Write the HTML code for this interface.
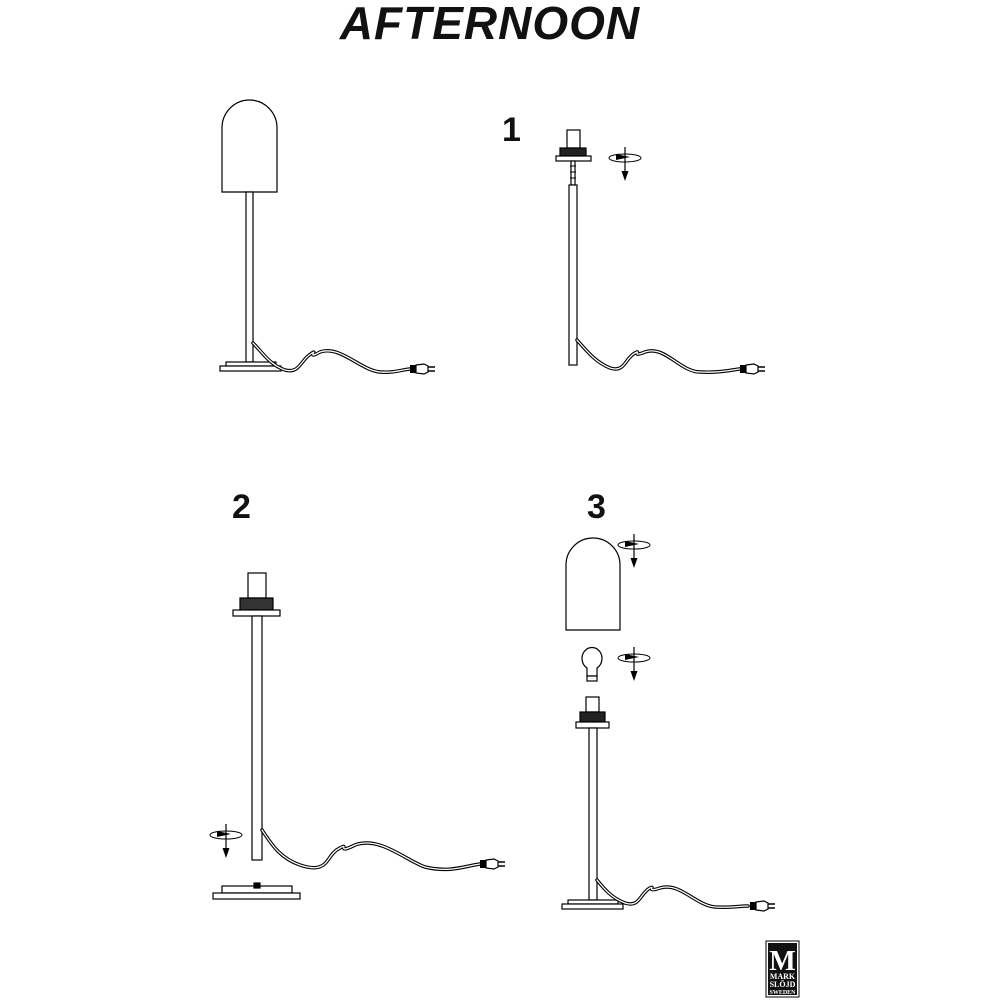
<!DOCTYPE html>
<html><head><meta charset="utf-8"><style>
html,body{margin:0;padding:0;background:#fff;width:1000px;height:1000px;overflow:hidden}
</style></head><body>
<svg width="1000" height="1000" viewBox="0 0 1000 1000" xmlns="http://www.w3.org/2000/svg">
<defs>
<g id="rot">
 <ellipse cx="0" cy="0" rx="16" ry="4" fill="none" stroke="#000" stroke-width="1"/>
 <line x1="0" y1="-11" x2="0" y2="17" stroke="#000" stroke-width="1.2"/>
 <polygon points="-3.5,13 3.5,13 0,23" fill="#000"/>
 <polygon points="-9,-4 5,-1 -9,2" fill="#000"/>
</g>
<g id="plug">
 <rect x="0" y="-4" width="6" height="8" fill="#000"/>
 <path d="M6,-4 L14,-5 L18,-3 L18,3 L14,5 L6,4 Z" fill="#fff" stroke="#000" stroke-width="1.2"/>
 <line x1="18" y1="-2" x2="25" y2="-2" stroke="#000" stroke-width="1.5"/>
 <line x1="18" y1="2" x2="25" y2="2" stroke="#000" stroke-width="1.5"/>
</g>
</defs>
<text x="490" y="39" text-anchor="middle" font-family="Liberation Sans, sans-serif" font-style="italic" font-weight="bold" font-size="46" fill="#111" letter-spacing="1">AFTERNOON</text>
<g font-family="Liberation Sans, sans-serif" font-weight="bold" font-size="34" fill="#111">
<text x="502" y="141">1</text><text x="232" y="518">2</text><text x="587" y="518">3</text>
</g>
<g fill="#fff" stroke="#000" stroke-width="1.2">
<path d="M222,192 L222,128 A27.5,28 0 0 1 277,128 L277,192 Z"/>
<rect x="246" y="192" width="7" height="170"/>
<rect x="226" y="362" width="50" height="4"/>
<rect x="220" y="366" width="61" height="5"/>
<rect x="567" y="130" width="13" height="18"/>
<rect x="560" y="148" width="26" height="8" fill="#222"/>
<rect x="556" y="156" width="35" height="5"/>
<rect x="571" y="161" width="4" height="24"/>
<rect x="569" y="185" width="8" height="180"/>
<rect x="248" y="573" width="18" height="25"/>
<rect x="240" y="598" width="33" height="12" fill="#333"/>
<rect x="233" y="610" width="47" height="6"/>
<rect x="252" y="616" width="10" height="244"/>
<rect x="222" y="886" width="70" height="7"/>
<rect x="213" y="893" width="87" height="6"/>
<rect x="254" y="883" width="6" height="5" fill="#000"/>
<path d="M566,630 L566,565 A27,27 0 0 1 620,565 L620,630 Z"/>
<path d="M587,668 A10,11 0 1 1 597,668 L597,676 L587,676 Z"/>
<rect x="587" y="676" width="10" height="5"/>
<rect x="586" y="697" width="13" height="15"/>
<rect x="580" y="712" width="25" height="10" fill="#222"/>
<rect x="576" y="722" width="33" height="6"/>
<rect x="589" y="728" width="8" height="172"/>
<rect x="568" y="900" width="50" height="4"/>
<rect x="562" y="904" width="61" height="5"/>
</g>
<g stroke="#000" stroke-width="1"><line x1="570" y1="166" x2="576" y2="166"/><line x1="570" y1="172" x2="576" y2="172"/><line x1="570" y1="178" x2="576" y2="178"/></g>
<g fill="none" stroke-linecap="round">
<path d="M253,343 C262,352 270,365 285,370 C300,374 300,360 312,353 C318,349 306,360 320,352 C340,345 360,370 380,372 C395,373 400,370 410,369" stroke="#000" stroke-width="3.5"/>
<path d="M253,343 C262,352 270,365 285,370 C300,374 300,360 312,353 C318,349 306,360 320,352 C340,345 360,370 380,372 C395,373 400,370 410,369" stroke="#fff" stroke-width="1.3"/>
<path d="M577,340 C586,350 595,362 610,368 C625,373 625,358 635,353 C642,349 630,358 645,352 C665,345 680,372 700,372 C720,373 730,370 740,369" stroke="#000" stroke-width="3.5"/>
<path d="M577,340 C586,350 595,362 610,368 C625,373 625,358 635,353 C642,349 630,358 645,352 C665,345 680,372 700,372 C720,373 730,370 740,369" stroke="#fff" stroke-width="1.3"/>
<path d="M262,830 C272,845 280,858 300,865 C330,875 325,855 340,848 C350,842 335,855 355,845 C380,836 405,860 425,867 C450,873 465,866 480,864" stroke="#000" stroke-width="3.5"/>
<path d="M262,830 C272,845 280,858 300,865 C330,875 325,855 340,848 C350,842 335,855 355,845 C380,836 405,860 425,867 C450,873 465,866 480,864" stroke="#fff" stroke-width="1.3"/>
<path d="M597,880 C605,890 612,898 625,903 C640,908 640,893 650,888 C656,885 645,893 660,888 C680,882 695,905 715,907 C730,908 738,906 748,906" stroke="#000" stroke-width="3.5"/>
<path d="M597,880 C605,890 612,898 625,903 C640,908 640,893 650,888 C656,885 645,893 660,888 C680,882 695,905 715,907 C730,908 738,906 748,906" stroke="#fff" stroke-width="1.3"/>
</g>
<use href="#plug" x="410" y="369"/>
<use href="#plug" x="740" y="369"/>
<use href="#plug" x="480" y="864"/>
<use href="#plug" x="750" y="906"/>
<use href="#rot" x="625" y="158"/>
<use href="#rot" x="226" y="835"/>
<use href="#rot" x="634" y="545"/>
<use href="#rot" x="634" y="658"/>
<rect x="766" y="941" width="33" height="56" fill="#fff" stroke="#000" stroke-width="1"/>
<rect x="768" y="943" width="29" height="52" fill="#111"/>
<text x="782.5" y="970" text-anchor="middle" font-family="Liberation Serif, serif" font-weight="bold" font-size="28" fill="#fff">M</text>
<g font-family="Liberation Serif, serif" font-weight="bold" font-size="8" fill="#fff" text-anchor="middle">
<text x="782.5" y="979">MARK</text><text x="782.5" y="987">SLÖJD</text><text x="782.5" y="994" font-size="6">SWEDEN</text>
</g>
</svg>
</body></html>
